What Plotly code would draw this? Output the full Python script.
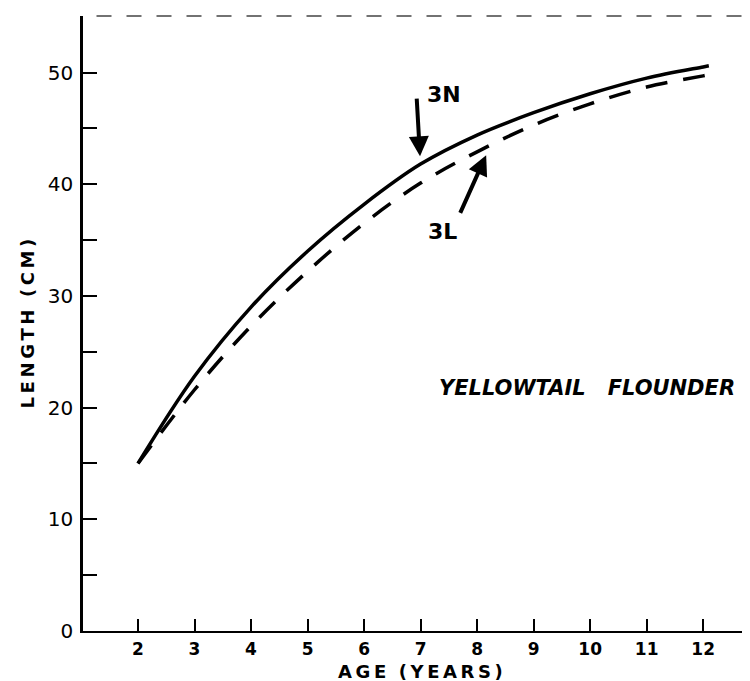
import plotly.graph_objects as go

# Data
ages = [2, 3, 4, 5, 6, 7, 8, 9, 10, 11, 12, 12.1]
len_3N = [15.0, 22.8, 29.0, 34.0, 38.2, 41.8, 44.4, 46.4, 48.1, 49.5, 50.5, 50.6]
len_3L = [15.0, 21.6, 27.3, 32.2, 36.5, 40.1, 42.9, 45.3, 47.2, 48.7, 49.7, 49.8]

x_ticks = [2, 3, 4, 5, 6, 7, 8, 9, 10, 11, 12]
x_tick_labels = ["2", "3", "4", "5", "6", "7", "8", "9", "10", "11", "12"]
y_ticks = [0, 5, 10, 15, 20, 25, 30, 35, 40, 45, 50]
y_tick_labels = ["0", "", "10", "", "20", "", "30", "", "40", "", "50"]

FONT = "DejaVu Sans"
TS = "\u2009"  # thin space for letter spacing


def spaced(word):
    return TS.join(word)


fig = go.Figure()
fig.add_trace(go.Scatter(x=ages, y=len_3N, mode="lines", name="3N",
                         line=dict(color="black", width=3.5, shape="spline", smoothing=1.0)))
fig.add_trace(go.Scatter(x=ages, y=len_3L, mode="lines", name="3L",
                         line=dict(color="black", width=3.5, dash="22px,16px", shape="spline", smoothing=1.0)))

annotations = [
    # labels
    dict(x=7.42, y=48.0, xref="x", yref="y", text="3N", showarrow=False,
         font=dict(family=FONT, size=22, color="black", weight="bold")),
    dict(x=7.38, y=35.8, xref="x", yref="y", text="3L", showarrow=False,
         font=dict(family=FONT, size=22, color="black", weight="bold")),
    # arrows
    dict(x=6.99, y=42.5, ax=6.93, ay=47.8, xref="x", yref="y", axref="x", ayref="y",
         text="", showarrow=True, arrowhead=2, arrowsize=1.0, arrowwidth=4, arrowcolor="black"),
    dict(x=8.16, y=42.6, ax=7.69, ay=37.3, xref="x", yref="y", axref="x", ayref="y",
         text="", showarrow=True, arrowhead=2, arrowsize=1.0, arrowwidth=4, arrowcolor="black"),
    # chart label
    dict(x=9.95, y=21.75, xref="x", yref="y", text="YELLOWTAIL   FLOUNDER", showarrow=False,
         font=dict(family=FONT, size=21, color="black", weight="bold", style="italic")),
    # axis titles
    dict(x=0.5, y=-0.066, xref="paper", yref="paper",
         text=spaced("AGE") + "  " + spaced("(YEARS)"), showarrow=False,
         xanchor="center", yanchor="middle",
         font=dict(family=FONT, size=18, color="black", weight="bold")),
    dict(x=-0.0815, y=0.5, xref="paper", yref="paper",
         text=spaced("LENGTH") + "  " + spaced("(CM)"), showarrow=False,
         xanchor="center", yanchor="middle", textangle=-90,
         font=dict(family=FONT, size=18, color="black", weight="bold")),
]

fig.update_layout(
    width=750, height=681,
    margin=dict(l=75, r=0, t=8, b=58, pad=0),
    paper_bgcolor="white", plot_bgcolor="white",
    showlegend=False,
    annotations=annotations,
    shapes=[dict(type="line", xref="paper", yref="paper", x0=0.02, x1=1.0, y0=1.0, y1=1.0,
                 line=dict(color="#444", width=1.5, dash="longdash"))],
    xaxis=dict(range=[1.027, 12.97], showline=True, linecolor="black", linewidth=2,
               ticks="inside", ticklen=12, tickwidth=2, tickcolor="black",
               tickvals=x_ticks, ticktext=x_tick_labels, ticklabelstandoff=2,
               tickfont=dict(family=FONT, size=17, color="black", weight="bold"),
               showgrid=False, zeroline=False),
    yaxis=dict(range=[0, 55.06], showline=True, linecolor="black", linewidth=2.5,
               ticks="inside", ticklen=14, tickwidth=2, tickcolor="black",
               tickvals=y_ticks, ticktext=y_tick_labels, ticklabelstandoff=3,
               tickfont=dict(family=FONT, size=20, color="black"),
               showgrid=False, zeroline=False),
)

fig.write_html("out.html")
